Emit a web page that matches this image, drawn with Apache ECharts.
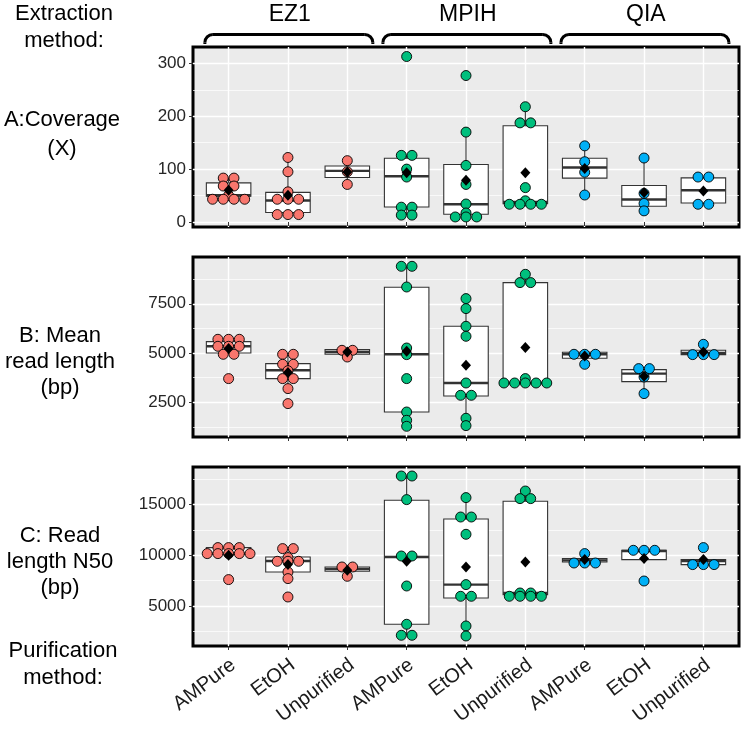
<!DOCTYPE html>
<html><head><meta charset="utf-8">
<script src="https://cdn.jsdelivr.net/npm/echarts@6/dist/echarts.min.js"></script>
<style>html,body{margin:0;padding:0;background:#fff}#c{width:743px;height:730px}</style>
</head><body><div id="c"></div>
<script>
// ---------- data ----------
const purification = ['AMPure','EtOH','Unpurified','AMPure','EtOH','Unpurified','AMPure','EtOH','Unpurified'];
const extraction = ['EZ1','MPIH','QIA'];
const groupColors = ['#F8766D','#00BF7D','#00B0F6'];
const panelTitles = ['A:Coverage\n(X)', 'B: Mean\nread length\n(bp)', 'C: Read\nlength N50\n(bp)'];

// individual samples (dots)
const coverageDots = [
  [83,83,68,68,50,43,43,43,43],
  [122,95,57,43,43,43,14,14,14],
  [116,95,71],
  [313,126,126,100,85,28,28,13,13],
  [277,170,107,71,34,17,9.5,9.5,9.5],
  [218,187.5,187.5,65,40,33.5,33.5,33.5,33.5],
  [144,114,94,51],
  [121,54,35,21],
  [85,85,33.5,33.5]
];
const meanLenDots = [
  [5696,5696,5696,5340,5340,5340,4934,4934,3699],
  [4934,4934,4426,4426,4100,3699,3699,3191,2429],
  [5137,5137,4797],
  [9405,9405,8354,5254,4918,3699,2002,1581,1276],
  [7764,7256,6357,5849,3476,2851,2851,1684,1310],
  [8999,8577,8577,3699,3476,3476,3476,3476,3476],
  [4934,4934,4934,4426],
  [4207,4207,3781,2937],
  [5442,4918,4918,4918]
];
const n50Dots = [
  [10759,10759,10759,10168,10168,10168,10168,10168,7604],
  [10660,10660,9773,9408,9408,9408,8353,7702,5889],
  [8847,8847,7929],
  [17819,17819,15492,9931,9931,6973,3197,2112,2112],
  [15689,13776,13776,12071,7110,5957,5957,3029,2043],
  [16340,15591,15591,6283,6283,5957,5957,5957,5957],
  [10168,9241,9241,9241],
  [10493,10493,10493,7465],
  [10759,9083,9083,9083]
];

// box statistics: [lower whisker, Q1, median, Q3, upper whisker]
const coverageBox = [
  [43,48.7,50.5,74,83],[14,17.8,40.5,56,122],[71,84,96.6,106,116],
  [13,28.4,86.6,120.6,126],[9.5,14.6,33.5,108.6,170],[33.5,34.8,38,182,218],
  [51,83,103,120.6,144],[21,29.7,42.4,68.9,121],[33.5,36,60,83.4,85]
];
const meanLenBox = [
  [4934,5000,5340,5579,5696],[3191,3699,4121,4461,4934],[4800,4934,5051,5173,5173],
  [1276,2002,4934,8339,9405],[1310,2815,3476,6357,7764],[3476,3476,3476,8577,8999],
  [4731,4731,4934,5036,5036],[2937,3547,3953,4156,4207],[4918,4918,5000,5137,5442]
];
const n50Box = [
  [10168,10168,10168,10759,10759],[7702,8353,9438,9833,10660],[7929,8422,8650,8847,8847],
  [2112,3197,9833,15423,17819],[2043,5790,7110,13580,15689],[5957,6125,6283,15324,16340],
  [9241,9340,9500,9675,10168],[9576,9576,10424,10493,10493],[9083,9083,9438,9576,9576]
];

// group means (black diamonds)
const coverageMean = [60,50.5,94.7,92.9,79,92.9,101,55.6,58.8];
const meanLenMean = [5223,4004,5051,5086,4375,5274,4848,3816,5051];
const n50Mean = [10000,9083,8521,9408,8847,9340,9576,9675,9576];

// axis ticks
const coverageTicks = [0,100,200,300];
const coverageMinor = [50,150,250];
const meanLenTicks = [2500,5000,7500];
const meanLenMinor = [1250,3750,6250,8750];
const n50Ticks = [5000,10000,15000];
const n50Minor = [2500,7500,12500,17500];
const yRanges = [[-9.5,331],[732,9878],[1055,18708]];

// ---------- chart ----------
const FONT = "'Liberation Sans', Arial, Helvetica, sans-serif";
const panels = [
  {dots: coverageDots, box: coverageBox, mean: coverageMean, ticks: coverageTicks, minor: coverageMinor},
  {dots: meanLenDots, box: meanLenBox, mean: meanLenMean, ticks: meanLenTicks, minor: meanLenMinor},
  {dots: n50Dots, box: n50Box, mean: n50Mean, ticks: n50Ticks, minor: n50Minor}
];
const gridTops = [47, 257, 467];
const gridHeights = [180, 180, 179];
const catValues = purification.map((_, i) => i + 1);
const labelValues = catValues.map(v => v + 0.08); // rotated labels sit slightly right of the tick

function stackOffsets(values) {
  const counts = {}, seen = {};
  values.forEach(v => { counts[v] = (counts[v] || 0) + 1; });
  return values.map(v => {
    seen[v] = seen[v] === undefined ? 0 : seen[v] + 1;
    return seen[v] - (counts[v] - 1) / 2;
  });
}

const grids = [], xAxes = [], yAxes = [], series = [];
panels.forEach((p, k) => {
  grids.push({left: 193, width: 546, top: gridTops[k], height: gridHeights[k],
    show: true, backgroundColor: '#EBEBEB', borderColor: '#000', borderWidth: 3});
  xAxes.push({
    type: 'value', gridIndex: k, min: 0.4, max: 9.6,
    axisLine: {show: false},
    axisTick: {show: true, length: 4, lineStyle: {color: '#333', width: 1}, customValues: catValues},
    axisLabel: {show: k === 2, customValues: labelValues, rotate: 37, margin: 17,
      fontSize: 20, fontFamily: FONT, color: '#1a1a1a',
      formatter: v => purification[Math.round(v) - 1] || ''},
    splitLine: {show: true, lineStyle: {color: '#fff', width: 1.4}}
  });
  yAxes.push({
    type: 'value', gridIndex: k, min: yRanges[k][0], max: yRanges[k][1],
    axisLine: {show: false},
    axisTick: {show: true, length: 4, lineStyle: {color: '#333', width: 1}, customValues: p.ticks},
    axisLabel: {show: true, customValues: p.ticks, margin: 7, fontSize: 17, fontFamily: FONT, color: '#262626',
      formatter: v => String(v)},
    splitLine: {show: true, lineStyle: {color: '#fff', width: 1.4}}
  });
  yAxes.push({
    type: 'value', gridIndex: k, min: yRanges[k][0], max: yRanges[k][1], position: 'left',
    axisLine: {show: false},
    axisTick: {show: false, customValues: p.minor},
    axisLabel: {show: false, customValues: p.minor},
    splitLine: {show: true, lineStyle: {color: '#fff', width: 0.7}}
  });

  // boxes
  series.push({
    type: 'custom', xAxisIndex: k, yAxisIndex: 2 * k, z: 2,
    data: p.box.map((b, i) => [i + 1].concat(b)),
    encode: {x: 0, y: [1, 2, 3, 4, 5]},
    renderItem: (params, api) => {
      const x = api.value(0);
      const lo = api.coord([x, api.value(1)]), q1 = api.coord([x, api.value(2)]),
            md = api.coord([x, api.value(3)]), q3 = api.coord([x, api.value(4)]),
            hi = api.coord([x, api.value(5)]);
      const hw = api.size([0.75, 0])[0] / 2;
      const cx = lo[0];
      const ls = {stroke: '#333', lineWidth: 1.1};
      return {type: 'group', children: [
        {type: 'line', shape: {x1: cx, y1: q3[1], x2: cx, y2: hi[1]}, style: ls},
        {type: 'line', shape: {x1: cx, y1: q1[1], x2: cx, y2: lo[1]}, style: ls},
        {type: 'rect', shape: {x: cx - hw, y: q3[1], width: 2 * hw, height: q1[1] - q3[1]},
          style: {fill: '#fff', stroke: '#333', lineWidth: 1.1}},
        {type: 'line', shape: {x1: cx - hw, y1: md[1], x2: cx + hw, y2: md[1]},
          style: {stroke: '#333', lineWidth: 2.4}}
      ]};
    }
  });

  // dots
  const dotData = [];
  p.dots.forEach((vals, i) => {
    const offs = stackOffsets(vals);
    vals.forEach((v, j) => dotData.push([i + 1, v, offs[j]]));
  });
  series.push({
    type: 'custom', xAxisIndex: k, yAxisIndex: 2 * k, z: 3,
    data: dotData, encode: {x: 0, y: 1},
    renderItem: (params, api) => {
      const cat = api.value(0);
      const pt = api.coord([cat, api.value(1)]);
      const D = 10.7;
      return {type: 'circle',
        shape: {cx: pt[0] + api.value(2) * D, cy: pt[1], r: 5},
        style: {fill: groupColors[Math.floor((cat - 1) / 3)], stroke: '#000', lineWidth: 0.9}};
    }
  });

  // means
  series.push({
    type: 'scatter', xAxisIndex: k, yAxisIndex: 2 * k, z: 4,
    symbol: 'diamond', symbolSize: [10, 11],
    itemStyle: {color: '#000', opacity: 1},
    data: p.mean.map((m, i) => [i + 1, m])
  });
});

const chart = echarts.init(document.getElementById('c'), null, {renderer: 'canvas'});
chart.setOption({
  animation: false,
  backgroundColor: '#fff',
  grid: grids, xAxis: xAxes, yAxis: yAxes, series: series
});

// annotations: headers, brackets, row labels
const graphics = [];
const textStyle = (text, size, lh) => ({text, fontSize: size, fontFamily: FONT, fill: '#000',
  align: 'center', verticalAlign: 'middle', lineHeight: lh});
const bracketStroke = {stroke: '#000', lineWidth: 3, fill: null};
extraction.forEach((name, g) => {
  const c = 2 + 3 * g;
  const x1 = chart.convertToPixel({xAxisIndex: 0}, c - 1.4);
  const x2 = chart.convertToPixel({xAxisIndex: 0}, c + 1.43);
  const xm = chart.convertToPixel({xAxisIndex: 0}, c + 0.03);
  const y1 = 34.5, y2 = 44, r = 8;
  graphics.push({type: 'line', shape: {x1: x1 + r, y1: y1, x2: x2 - r, y2: y1}, style: bracketStroke});
  graphics.push({type: 'line', shape: {x1: x1, y1: y1 + r, x2: x1, y2: y2}, style: bracketStroke});
  graphics.push({type: 'line', shape: {x1: x2, y1: y1 + r, x2: x2, y2: y2}, style: bracketStroke});
  graphics.push({type: 'arc', shape: {cx: x1 + r, cy: y1 + r, r: r, startAngle: Math.PI, endAngle: 1.5 * Math.PI, clockwise: true}, style: bracketStroke});
  graphics.push({type: 'arc', shape: {cx: x2 - r, cy: y1 + r, r: r, startAngle: 1.5 * Math.PI, endAngle: 2 * Math.PI, clockwise: true}, style: bracketStroke});
  graphics.push({type: 'text', x: xm, y: 15, style: textStyle(name, 23, 26)});
});
graphics.push({type: 'text', x: 64, y: 27, style: textStyle('Extraction\nmethod:', 22, 27)});
graphics.push({type: 'text', x: 62, y: 134, style: textStyle(panelTitles[0], 22, 29)});
graphics.push({type: 'text', x: 60, y: 362, style: textStyle(panelTitles[1], 22, 26)});
graphics.push({type: 'text', x: 60, y: 562, style: textStyle(panelTitles[2], 22, 26)});
graphics.push({type: 'text', x: 63, y: 664, style: textStyle('Purification\nmethod:', 22, 27)});
chart.setOption({graphic: graphics});
</script></body></html>
